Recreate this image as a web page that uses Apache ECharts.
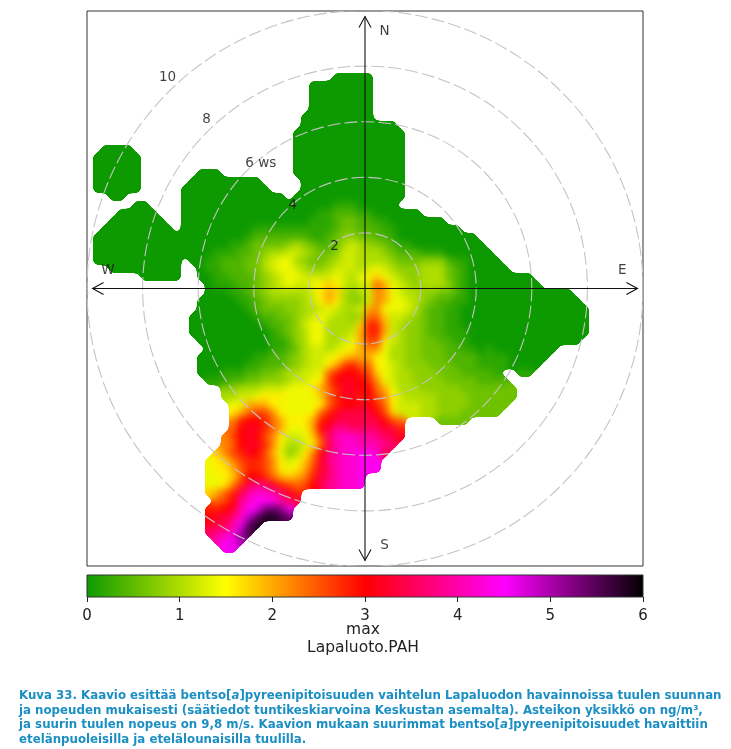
<!DOCTYPE html>
<html>
<head>
<meta charset="utf-8">
<style>html,body{margin:0;padding:0;background:#fff}#chart{width:731px;height:749px}</style>
<script src="https://cdn.jsdelivr.net/npm/echarts@6/dist/echarts.min.js"></script>
</head>
<body>
<svg width="0" height="0" style="position:absolute">
  <filter id="smooth" x="0" y="0" width="100%" height="100%" color-interpolation-filters="sRGB">
    <feGaussianBlur stdDeviation="3.6"/>
    <feComponentTransfer><feFuncA type="linear" slope="24" intercept="-11.5"/></feComponentTransfer>
  </filter>
</svg>
<div id="chart"></div>
<script>
// concentration, one string per row from the top, 5 cells per group.
// '.' = no data, otherwise base-36 digit in steps of 0.2 ng/m3
var cellRows = [
"","","","","","","","",
"..... ..... ..... ..... ..... ..... .0000 0",
"..... ..... ..... ..... ..... ...00 00000 0",
"..... ..... ..... ..... ..... ...00 00000 0",
"..... ..... ..... ..... ..... ...00 00000 0",
"..... ..... ..... ..... ..... ...00 00000 0",
"..... ..... ..... ..... ..... ..000 00000 0",
"..... ..... ..... ..... ..... ..000 00000 0000",
"..... ..... ..... ..... ..... .0000 00000 00000",
"..... ..... ..... ..... ..... .0000 00000 00000",
"..000 0.... ..... ..... ..... .0000 00000 00000",
".0000 00... ..... ..... ..... .0000 00000 00000",
".0000 00... ..... ..... ..... .0000 00000 00000",
".0000 00... ....0 00... ..... .0000 00000 00000",
".0000 00... ...00 00000 00... ..000 00000 00000",
".0000 00... ..000 00000 000.. ..000 00000 00000",
"...00 ..... ..000 00000 00000 .0000 00000 00000",
"..... .00.. ..000 00000 00000 00000 01110 0000",
"....0 0000. ..000 00000 00000 00001 12221 10000 00",
"...00 00000 ..000 00000 00000 00011 12332 21100 00000",
"..000 00000 0.000 00000 01111 11111 12332 22110 00000 00",
".0000 00000 00000 00000 12222 22211 23443 32210 00000 0000",
".0000 00000 00000 00011 23333 45432 23565 44321 10000 00000",
".0000 00000 00000 01112 23455 66543 34665 55432 22111 00000 0",
".0000 00000 00.00 11222 33567 75433 45665 55543 33444 21100 00",
"...00 00000 00..0 11222 33567 76544 56665 67654 44555 32100 000",
"..... ..000 00..0 01122 23456 77666 67657 89765 44555 32100 00000 0",
"..... ..... ..... 01112 23456 76678 98656 6ca76 54555 42100 00000 00",
"..... ..... ..... 00011 23455 55568 a9545 6ba76 55443 32100 00000 00000 0",
"..... ..... ....0 00001 12344 44568 a8544 6ba77 65432 21100 00000 00000 00",
"..... ..... ....0 00000 12333 44556 76556 ab777 65322 11000 00000 00000 000",
"..... ..... ...00 00000 01223 34567 65545 cc966 54322 11000 00000 00000 000",
"..... ..... ...00 00000 00122 34677 55559 eea65 44322 11000 00000 00000 000",
"..... ..... ...00 00000 00012 34577 5556a eea65 44322 11100 00000 00000 000",
"..... ..... ....0 00000 00011 24577 5567a dd865 44332 21100 00000 00000 00",
"..... ..... ..... 00000 00011 23566 5678a bb755 44333 22110 10000 0000",
"..... ..... ....0 00000 01122 34566 789aa a8755 44333 22221 11100 000",
"..... ..... ....0 00000 11222 34566 8adec c8765 44433 32221 11100 00",
"..... ..... ....0 00111 22334 55667 ceffe d9765 54443 33222 21..1 1",
"..... ..... ..... 11122 33444 56678 dfggf eb765 54444 33332 222",
"..... ..... ..... ..445 55666 7778a ceggf fca75 55444 44333 3333",
"..... ..... ..... ..556 67888 77779 cegge fdb86 55554 44433 3333",
"..... ..... ..... ...77 aaa87 77778 ceffg fec86 66554 44433 333",
"..... ..... ..... ...8a cddb8 7778c eghhh hfd96 66554 44333 33",
"..... ..... ..... ...be ffeca 888ae fhhhh hhfdc ....3 333",
"..... ..... ..... ...cf ggeca 777af hjjii iighe",
"..... ..... ..... ..bdf gfdb8 6679d ikllk kjihg",
"..... ..... ..... ..bcf ggeb8 5568c hkllk kkji",
"..... ..... ..... .9bde gfda7 458bf ikllm mlh",
"..... ..... ..... 789bd eedb8 679cg jkllm mm",
"..... ..... ..... 788ac eedb8 78adg ikllm mm",
"..... ..... ..... 7789c ffeca 9abeh ikllm",
"..... ..... ..... 778be hjige dcdfh jkllm",
"..... ..... ..... 9aceh kllki ge",
"..... ..... ..... .cdfj lmmmk ih",
"..... ..... ..... eefgk mnqrq n",
"..... ..... ..... fghil ortts r",
"..... ..... ..... ghhkn rt",
"..... ..... ..... ijklp s",
"..... ..... ..... .kmnp",
"..... ..... ..... ..mn"
];
var cellCount = 70;
var ringSpeeds = [2, 4, 6, 8, 10];
var axisReach = 9.8;
var plotLabels = [
  [-1.1, 1.5, '2'], [-2.6, 3.0, '4'], [-3.75, 4.5, '6 ws'], [-5.7, 6.1, '8'], [-7.1, 7.6, '10'],
  [0.7, 9.25, 'N'], [0.7, -9.25, 'S'], [-9.25, 0.65, 'W'], [9.25, 0.65, 'E']
];
var scaleColors = ['#0d9900', '#ffff00', '#ff0000', '#ff00ff', '#000000'];
var captionLines = [
  '{t|Kuva 33. Kaavio esittää bentso[}{i|a}{t|]pyreenipitoisuuden vaihtelun Lapaluodon havainnoissa tuulen suunnan}',
  '{t|ja nopeuden mukaisesti (säätiedot tuntikeskiarvoina Keskustan asemalta). Asteikon yksikkö on ng/m³,}',
  '{t|ja suurin tuulen nopeus on 9,8 m/s. Kaavion mukaan suurimmat bentso[}{i|a}{t|]pyreenipitoisuudet havaittiin}',
  '{t|etelänpuoleisilla ja etelälounaisilla tuulilla.}'
];

var cells = [];
cellRows.forEach(function (row, r) {
  row.replace(/ /g, '').split('').forEach(function (ch, c) {
    if (ch !== '.') cells.push([c, r, parseInt(ch, 36) * 0.2]);
  });
});
var indexes = [];
for (var i = 0; i < cellCount; i++) indexes.push(i);

var chart = echarts.init(document.getElementById('chart'));
var fontName = 'DejaVu Sans';
var captionStyle = { fontFamily: fontName, fontSize: 11.8, fontWeight: 'bold', color: '#1b8fc4', lineHeight: 14.5 };
chart.setOption({
  animation: false,
  textStyle: { fontFamily: fontName },
  title: [
    { text: 'max', left: 363, top: 622, padding: 0, textAlign: 'center', textStyle: { fontSize: 15.5, fontWeight: 'normal', color: '#222' } },
    { text: 'Lapaluoto.PAH', left: 363, top: 640, padding: 0, textAlign: 'center', textStyle: { fontSize: 15.5, fontWeight: 'normal', color: '#222' } },
    {
      text: captionLines.join('\n'), left: 19, top: 689, padding: 0,
      textStyle: { rich: { t: captionStyle, i: Object.assign({}, captionStyle, { fontStyle: 'italic' }) } }
    }
  ],
  grid: [
    { left: 87, top: 11, width: 556, height: 555, show: true, borderColor: '#333', borderWidth: 1, backgroundColor: 'transparent' },
    { left: 87, top: 575, width: 556, height: 22 },
    { left: 85, top: 9, width: 560, height: 560 }
  ],
  xAxis: [
    { type: 'value', min: -10, max: 10, gridIndex: 0, show: false },
    {
      type: 'value', min: 0, max: 6, interval: 1, gridIndex: 1, z: 6,
      axisLine: { show: false }, splitLine: { show: false },
      axisTick: { length: 5, lineStyle: { color: '#222' } },
      axisLabel: { margin: 12, fontSize: 15, color: '#222' }
    },
    { type: 'category', data: indexes, gridIndex: 2, show: false }
  ],
  yAxis: [
    { type: 'value', min: -10, max: 10, gridIndex: 0, show: false },
    { type: 'value', min: 0, max: 1, gridIndex: 1, show: false },
    { type: 'category', data: indexes, inverse: true, gridIndex: 2, show: false }
  ],
  visualMap: {
    type: 'continuous', show: false, seriesIndex: 0, min: 0, max: 6,
    inRange: { color: scaleColors }
  },
  series: [
    {
      type: 'heatmap', xAxisIndex: 2, yAxisIndex: 2, data: cells, progressive: 0,
      itemStyle: { borderWidth: 0 }, emphasis: { disabled: true }, zlevel: -1
    },
    {
      type: 'custom', xAxisIndex: 0, yAxisIndex: 0, data: ringSpeeds.map(function (s) { return [s]; }),
      encode: { x: 0 }, clip: true, silent: true, z: 4,
      renderItem: function (params, api) {
        var c = api.coord([0, 0]);
        return {
          type: 'circle', shape: { cx: c[0], cy: c[1], r: api.size([api.value(0), 0])[0] },
          style: { fill: 'none', stroke: '#c4c4c4', lineWidth: 1.1, lineDash: [13, 4] }
        };
      }
    },
    {
      type: 'custom', xAxisIndex: 0, yAxisIndex: 0, data: [[axisReach]],
      encode: { x: 0 }, clip: false, silent: true, z: 5,
      renderItem: function (params, api) {
        var r = api.value(0);
        var w = api.coord([-r, 0]), e = api.coord([r, 0]), n = api.coord([0, r]), s = api.coord([0, -r]);
        var a = 11, b = 6;
        var lines = [
          [w, e], [n, s],
          [[w[0] + a, w[1] - b], w, [w[0] + a, w[1] + b]],
          [[e[0] - a, e[1] - b], e, [e[0] - a, e[1] + b]],
          [[n[0] - b, n[1] + a], n, [n[0] + b, n[1] + a]],
          [[s[0] - b, s[1] - a], s, [s[0] + b, s[1] - a]]
        ];
        return {
          type: 'group',
          children: lines.map(function (pts) {
            return { type: 'polyline', shape: { points: pts }, style: { fill: 'none', stroke: '#111', lineWidth: 1.1 } };
          })
        };
      }
    },
    {
      type: 'scatter', xAxisIndex: 0, yAxisIndex: 0, symbolSize: 0, silent: true, z: 6,
      data: plotLabels,
      label: {
        show: true, position: 'inside', fontSize: 13.5, color: '#111',
        formatter: function (p) { return p.data[2]; }
      }
    },
    {
      // colour key
      type: 'custom', xAxisIndex: 1, yAxisIndex: 1, data: [[0, 1, 6]],
      encode: { x: 0 }, clip: false, silent: true, z: 3,
      renderItem: function (params, api) {
        var p = api.coord([api.value(0), api.value(1)]);
        var s = api.size([api.value(2), api.value(1)]);
        return {
          type: 'rect', shape: { x: p[0], y: p[1], width: s[0], height: s[1] },
          style: {
            stroke: '#333', lineWidth: 1,
            fill: {
              type: 'linear', x: 0, y: 0, x2: 1, y2: 0,
              colorStops: scaleColors.map(function (c, i) { return { offset: i / (scaleColors.length - 1), color: c }; })
            }
          }
        };
      }
    }
  ]
});
// soften the cell blocks of the lowest canvas layer only (the heatmap)
chart.getDom().querySelectorAll('canvas')[0].style.filter = 'url(#smooth)';
</script>
</body>
</html>
